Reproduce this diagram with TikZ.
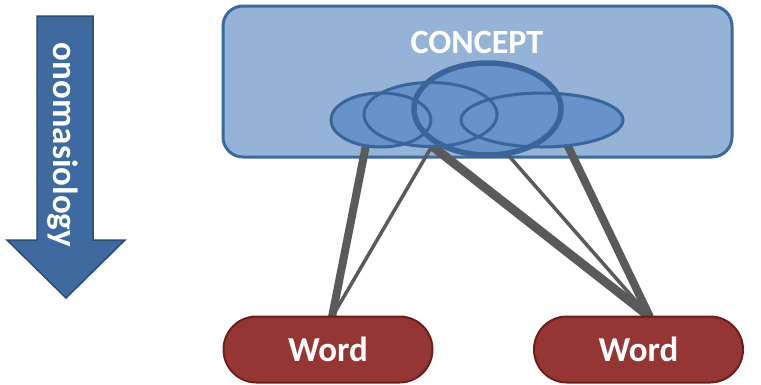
\documentclass[tikz,border=0pt]{standalone}
\usepackage{fontspec}
\setmainfont{Carlito}
\usetikzlibrary{shapes.geometric,shapes.misc}
\definecolor{boxfill}{HTML}{95B3D7}
\definecolor{boxedge}{HTML}{3D6A9E}
\definecolor{ellfill}{HTML}{6792CA}
\definecolor{elledge}{HTML}{3A659B}
\definecolor{wordfill}{HTML}{963634}
\definecolor{wordedge}{HTML}{6A1F1D}
\definecolor{linkgray}{HTML}{5A5A5A}
\definecolor{arrfill}{HTML}{3E6AA0}
\definecolor{arredge}{HTML}{2A4C76}
\tikzset{
  conceptbox/.style={draw=boxedge, line width=3pt, fill=boxfill, rounded corners=20pt,
    minimum width=509pt, minimum height=151pt, inner sep=0pt},
  ellf/.style={ellipse, fill=ellfill, inner sep=0pt},
  elle/.style={ellipse, draw=elledge, line width=3pt, inner sep=0pt},
  wordbox/.style={rounded rectangle, draw=wordedge, line width=2pt, fill=wordfill,
    minimum width=209pt, minimum height=66pt, inner sep=0pt,
    text=white, font=\bfseries\fontsize{35}{40}\selectfont},
  thicklink/.style={draw=linkgray, line width=8pt},
  thinlink/.style={draw=linkgray, line width=3.5pt},
  whitelabel/.style={text=white, font=\bfseries\fontsize{34}{40}\selectfont, inner sep=0pt}
}
\begin{document}
\begin{tikzpicture}[x=1pt,y=-1pt]
\useasboundingbox (0,0) rectangle (761,384);
% direction arrow
\draw[fill=arrfill, draw=arredge, line width=1.5pt]
  (37,16) -- (93,16) -- (93,240) -- (125,240) -- (66,298) -- (7,240) -- (37,240) -- cycle;
\node[whitelabel, rotate=-90, font=\bfseries\fontsize{35}{40}\selectfont] (onom) at (63,145) {onomasiology};
% concept box
\node[conceptbox] (concept) at (477.5,81.5) {};
\node[whitelabel] (clabel) at (477,42) {CONCEPT};
% link anchors
\coordinate (a1) at (367,140);
\coordinate (a2) at (432,146);
\coordinate (a3) at (495,140);
\coordinate (a4) at (565,140);
\coordinate (w1top) at (332,317);
\coordinate (w2top) at (650,317);
% links
\draw[thicklink] (a1) -- (w1top);
\draw[thinlink] (a2) -- (w1top);
\draw[thicklink, line width=9pt] (a2) -- (w2top);
\draw[thinlink] (a3) -- (w2top);
\draw[thicklink] (a4) -- (w2top);
% ellipse fills
\node[ellf, minimum width=100pt, minimum height=54pt] (e1) at (381,120) {};
\node[ellf, minimum width=133pt, minimum height=64pt] (e2) at (430.5,114.5) {};
\node[ellf, minimum width=147pt, minimum height=92pt] (e3) at (487.5,109) {};
\node[ellf, minimum width=162pt, minimum height=54pt] (e4) at (542,120) {};
% ellipse borders
\node[elle, minimum width=100pt, minimum height=54pt] (e1b) at (e1) {};
\node[elle, minimum width=133pt, minimum height=64pt] (e2b) at (e2) {};
\node[elle, minimum width=147pt, minimum height=92pt, line width=5.5pt] (e3b) at (e3) {};
\node[elle, minimum width=162pt, minimum height=54pt] (e4b) at (e4) {};
% words
\node[wordbox] (w1) at (328,349.5) {Word};
\node[wordbox] (w2) at (638.5,349.5) {Word};
\end{tikzpicture}
\end{document}
